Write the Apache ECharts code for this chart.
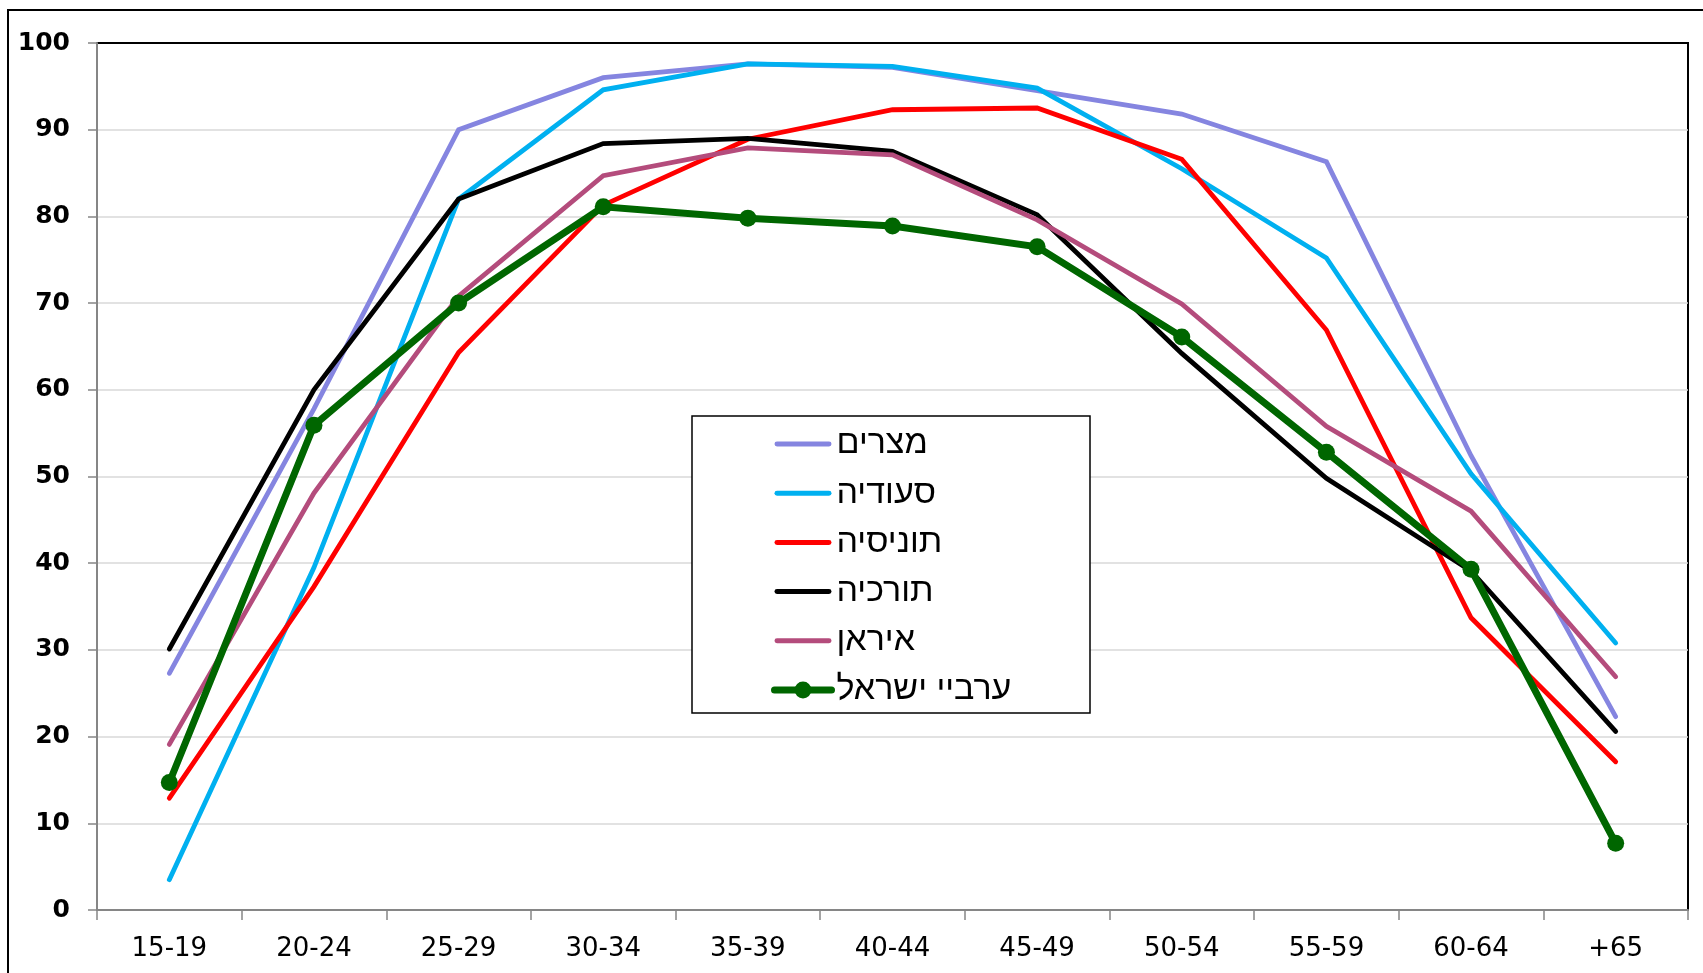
<!DOCTYPE html>
<html>
<head>
<meta charset="utf-8">
<script src="https://cdn.jsdelivr.net/npm/echarts@6/dist/echarts.min.js"></script>
<style>
html,body{margin:0;padding:0;background:#fff;}
#chart{width:1703px;height:973px;}
</style>
</head>
<body>
<div id="chart"></div>
<script>
const categories = ['15-19','20-24','25-29','30-34','35-39','40-44','45-49','50-54','55-59','60-64','+65'];
const yTicks = [0,10,20,30,40,50,60,70,80,90,100];

const egypt   = [27.3, 57.8, 90.0, 96.0, 97.6, 97.2, 94.5, 91.8, 86.3, 52.4, 22.3];
const saudi   = [3.5, 39.5, 82.0, 94.6, 97.6, 97.3, 94.8, 85.5, 75.2, 50.3, 30.8];
const tunisia = [12.9, 37.3, 64.3, 81.3, 88.9, 92.3, 92.5, 86.6, 66.9, 33.7, 17.1];
const turkey  = [30.1, 60.0, 82.0, 88.4, 89.0, 87.5, 80.2, 64.2, 49.8, 39.1, 20.6];
const iran    = [19.1, 48.1, 70.8, 84.7, 87.9, 87.1, 79.6, 69.9, 55.8, 46.0, 26.9];
const israeliArabs = [14.7, 55.9, 70.0, 81.1, 79.8, 78.9, 76.5, 66.1, 52.8, 39.3, 7.7];

const seriesNames = ['מצרים','סעודיה','תוניסיה','תורכיה','איראן','ערביי ישראל'];
const seriesData = [egypt, saudi, tunisia, turkey, iran, israeliArabs];
const seriesColors = ['#8585E0','#00B0F0','#FF0000','#000000','#B44C7C','#006600'];

const chart = echarts.init(document.getElementById('chart'), null, {renderer:'canvas'});

const series = seriesData.map((d, i) => {
  const isGreen = i === 5;
  return {
    name: seriesNames[i],
    type: 'line',
    data: d,
    color: seriesColors[i],
    symbol: isGreen ? 'circle' : 'none',
    symbolSize: isGreen ? 17 : 0,
    showSymbol: isGreen,
    lineStyle: {color: seriesColors[i], width: isGreen ? 7 : 4.8, cap: 'round', join: 'miter'},
    itemStyle: {color: seriesColors[i]},
    emphasis: {disabled: true},
    z: 2 + i,
    animation: false
  };
});

const lineIcon = 'path://M2.4,0H52.6A2.4,2.4 0 0 1 52.6,4.8H2.4A2.4,2.4 0 0 1 2.4,0Z';
const legendData = seriesNames.map((n, i) => i === 5 ? {name: n} : {name: n, icon: lineIcon});

chart.setOption({
  animation: false,
  backgroundColor: '#ffffff',
  grid: {
    left: 97, top: 43, right: 15, bottom: 63,
    show: true, borderColor: '#000000', borderWidth: 2,
    containLabel: false, outerBoundsMode: 'none'
  },
  graphic: [
    {type: 'rect', shape: {x: 8, y: 10, width: 1800, height: 1000}, style: {fill: null, stroke: '#000', lineWidth: 2}, silent: true, z: 0},
    {type: 'rect', shape: {x: 692, y: 416, width: 398, height: 297}, style: {fill: '#fff', stroke: '#000', lineWidth: 1.5}, silent: true, z: 10}
  ],
  legend: {
    orient: 'vertical',
    left: 766, top: 422,
    itemWidth: 57, itemHeight: 21, itemGap: 15.2,
    z: 20,
    lineStyle: {width: 'inherit'},
    textStyle: {fontFamily: "'Liberation Sans', Arial, sans-serif", fontSize: 34, lineHeight: 30, color: '#000'},
    data: legendData,
    selectedMode: false
  },
  xAxis: {
    type: 'category',
    data: categories,
    boundaryGap: true,
    axisLine: {lineStyle: {color: '#868686', width: 2}},
    axisTick: {show: true, alignWithLabel: false, length: 10, lineStyle: {color: '#868686', width: 1.5}},
    axisLabel: {color: '#000', fontSize: 26, fontFamily: "'DejaVu Sans', Verdana, sans-serif", margin: 26, interval: 0},
    splitLine: {show: false}
  },
  yAxis: {
    type: 'value',
    min: 0, max: 100, interval: 10,
    axisLine: {show: true, lineStyle: {color: '#868686', width: 2}},
    axisTick: {show: true, length: 9, lineStyle: {color: '#868686', width: 1.5}},
    axisLabel: {color: '#000', fontSize: 25, fontWeight: 'bold', fontFamily: "'DejaVu Sans', Verdana, sans-serif", margin: 27,
      formatter: v => yTicks.includes(v) ? String(v) : ''},
    splitLine: {show: true, showMaxLine: false, showMinLine: false, lineStyle: {color: '#D9D9D9', width: 1.5}}
  },
  series: series
});
</script>
</body>
</html>
